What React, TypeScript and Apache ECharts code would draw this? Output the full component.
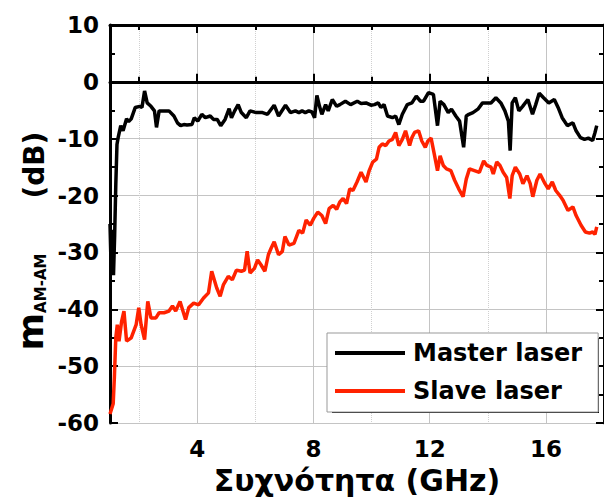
import React, { useEffect, useRef } from "react";
import * as echarts from "echarts";

const masterFreq = [1.0, 1.04, 1.08, 1.12, 1.16, 1.2, 1.24, 1.28, 1.37, 1.45, 1.57, 1.64, 1.73, 1.87, 2.02, 2.1, 2.19, 2.28, 2.41, 2.53, 2.6, 2.69, 2.84, 3.03, 3.2, 3.32, 3.43, 3.54, 3.65, 3.82, 3.9, 4.02, 4.16, 4.28, 4.45, 4.56, 4.69, 4.81, 4.96, 5.1, 5.18, 5.29, 5.41, 5.52, 5.69, 5.82, 6.03, 6.25, 6.42, 6.65, 6.8, 7.04, 7.21, 7.38, 7.5, 7.61, 7.72, 7.84, 7.95, 8.04, 8.12, 8.21, 8.29, 8.42, 8.51, 8.65, 8.8, 8.91, 9.1, 9.28, 9.51, 9.64, 9.81, 9.98, 10.1, 10.23, 10.32, 10.43, 10.55, 10.72, 10.83, 10.94, 11.06, 11.23, 11.39, 11.54, 11.68, 11.79, 11.96, 12.13, 12.27, 12.36, 12.49, 12.64, 12.75, 12.9, 13.03, 13.17, 13.26, 13.35, 13.49, 13.66, 13.82, 13.99, 14.11, 14.28, 14.45, 14.59, 14.71, 14.77, 14.84, 14.95, 15.07, 15.2, 15.38, 15.54, 15.65, 15.77, 15.92, 16.1, 16.29, 16.42, 16.56, 16.74, 16.93, 17.04, 17.19, 17.33, 17.46, 17.61, 17.69, 17.75];
const masterGain = [-25, -33, -26, -34, -27, -18, -11, -9.8, -7.7, -8.6, -6.5, -7.0, -6.5, -4.5, -4.3, -4.5, -1.6, -3.7, -4.3, -5.1, -8.0, -5.1, -5.1, -5.1, -6.0, -7.2, -7.7, -7.5, -7.6, -7.5, -6.3, -6.9, -5.7, -6.3, -6.0, -6.6, -6.6, -7.7, -6.6, -4.7, -6.3, -5.1, -4.0, -5.4, -6.3, -5.1, -5.4, -5.4, -5.7, -4.1, -6.0, -4.1, -5.4, -5.1, -5.4, -5.1, -5.4, -5.1, -5.3, -6.3, -2.4, -4.3, -5.7, -4.0, -5.1, -3.1, -4.3, -4.0, -3.4, -4.0, -3.4, -3.8, -3.7, -4.1, -4.0, -3.7, -4.5, -4.0, -6.0, -6.3, -6.0, -7.5, -5.7, -4.0, -3.7, -2.5, -3.4, -3.4, -1.9, -2.2, -7.7, -3.4, -4.0, -5.4, -4.8, -6.0, -6.9, -11.5, -6.0, -5.7, -5.4, -4.8, -3.7, -3.7, -3.7, -2.8, -3.7, -5.1, -6.9, -12.1, -3.7, -2.8, -5.1, -4.3, -3.1, -5.7, -4.0, -2.0, -2.8, -3.7, -3.1, -4.5, -6.3, -7.7, -7.2, -8.6, -9.8, -10.1, -9.9, -10.3, -8.9, -7.7];

const slaveFreq = [1.0, 1.11, 1.15, 1.2, 1.25, 1.31, 1.4, 1.48, 1.57, 1.73, 1.9, 1.99, 2.07, 2.19, 2.3, 2.41, 2.58, 2.69, 2.86, 3.03, 3.15, 3.26, 3.41, 3.6, 3.71, 3.88, 4.05, 4.22, 4.39, 4.5, 4.67, 4.79, 4.9, 5.07, 5.21, 5.35, 5.52, 5.63, 5.72, 5.82, 5.97, 6.08, 6.2, 6.33, 6.45, 6.54, 6.65, 6.8, 6.93, 7.02, 7.16, 7.33, 7.5, 7.63, 7.75, 7.89, 8.01, 8.15, 8.29, 8.42, 8.54, 8.68, 8.8, 8.91, 9.02, 9.14, 9.25, 9.36, 9.5, 9.64, 9.81, 9.92, 10.04, 10.17, 10.26, 10.37, 10.49, 10.6, 10.72, 10.83, 10.94, 11.06, 11.17, 11.31, 11.39, 11.48, 11.62, 11.73, 11.85, 11.94, 12.05, 12.16, 12.27, 12.36, 12.47, 12.58, 12.73, 12.86, 13.0, 13.15, 13.26, 13.37, 13.54, 13.71, 13.86, 13.97, 14.11, 14.19, 14.31, 14.42, 14.53, 14.65, 14.76, 14.84, 14.95, 15.1, 15.21, 15.35, 15.46, 15.55, 15.69, 15.8, 15.97, 16.08, 16.22, 16.34, 16.48, 16.59, 16.76, 16.93, 17.04, 17.21, 17.36, 17.5, 17.61, 17.69, 17.75];
const slaveGain = [-58.4, -56.6, -52, -45, -42.7, -45.6, -42.1, -40.3, -45.6, -45.0, -42.7, -39.7, -42.7, -45.3, -38.6, -41.5, -41.5, -40.6, -40.6, -40.3, -39.4, -40.3, -38.6, -41.8, -39.7, -38.9, -39.2, -38.0, -37.1, -33.3, -36.2, -37.7, -35.7, -34.2, -34.8, -33.1, -33.3, -33.1, -29.8, -33.6, -32.8, -31.3, -32.2, -33.3, -30.4, -29.3, -28.1, -30.4, -29.8, -27.2, -28.7, -28.4, -26.1, -26.6, -24.3, -25.2, -24.0, -22.9, -23.5, -24.9, -22.3, -21.7, -22.4, -21.1, -20.5, -21.4, -18.8, -19.1, -17.6, -15.9, -17.6, -15.6, -14.1, -13.6, -11.5, -10.9, -11.2, -10.4, -10.1, -8.9, -11.2, -10.1, -8.6, -11.2, -9.8, -8.9, -8.6, -10.4, -11.5, -10.4, -9.9, -12.7, -15.6, -13.0, -14.7, -15.3, -15.6, -17.3, -18.8, -20.2, -17.1, -15.3, -15.6, -15.9, -13.9, -14.7, -15.0, -16.2, -14.1, -14.7, -15.9, -16.8, -20.5, -16.5, -15.0, -16.2, -17.9, -16.5, -17.9, -20.2, -17.3, -16.2, -17.9, -18.8, -17.6, -19.1, -20.0, -20.8, -22.6, -22.0, -23.5, -25.2, -26.4, -26.6, -26.4, -26.8, -25.5];

const majorXTicks = [4, 8, 12, 16];
const minorXTicks = [2, 6, 10, 14];
const seriesNames = ["Master laser", "Slave laser"];
const xTitle = "Συχνότητα (GHz)";

const FONT = "DejaVu Sans";

export default function App() {
  const ref = useRef<HTMLDivElement>(null);
  useEffect(() => {
    if (!ref.current) return;
    const chart = echarts.init(ref.current, null, { renderer: "svg" });
    const zip = (xs: number[], ys: number[]) => xs.map((x, i) => [x, ys[i]]);
    const baseX = { type: "value", min: 1, max: 18, gridIndex: 0 } as any;
    const option: any = {
      animation: false,
      backgroundColor: "#fff",
      grid: { left: 110, top: 25, right: -7, bottom: 74, containLabel: false },
      xAxis: [
        {
          ...baseX,
          position: "bottom",
          name: xTitle,
          nameLocation: "middle",
          nameGap: 41,
          nameTextStyle: { fontFamily: FONT, fontWeight: "bold", fontSize: 30, color: "#000" },
          axisLine: { show: true, lineStyle: { color: "#000", width: 3 } },
          axisTick: { show: true, inside: true, length: 8, customValues: majorXTicks, lineStyle: { color: "#000", width: 2 } },
          axisLabel: { show: true, customValues: majorXTicks, margin: 14, fontFamily: FONT, fontWeight: "bold", fontSize: 23, color: "#000" },
          splitLine: { show: true, lineStyle: { color: "#c4c4c4", width: 1 } },
        },
        {
          ...baseX,
          position: "bottom",
          axisLine: { show: false },
          axisTick: { show: true, inside: true, length: 5, customValues: minorXTicks, lineStyle: { color: "#000", width: 2 } },
          axisLabel: { show: false },
          splitLine: { show: true, lineStyle: { color: "#d0d0d0", width: 1, type: "dotted" } },
        },
        {
          ...baseX,
          position: "top",
          axisLine: { show: true, lineStyle: { color: "#000", width: 3 } },
          axisTick: { show: true, inside: true, length: 8, customValues: majorXTicks, lineStyle: { color: "#000", width: 2 } },
          axisLabel: { show: false },
          splitLine: { show: false },
        },
        {
          ...baseX,
          position: "top",
          axisLine: { show: false },
          axisTick: { show: true, inside: true, length: 5, customValues: minorXTicks, lineStyle: { color: "#000", width: 2 } },
          axisLabel: { show: false },
          splitLine: { show: false },
        },
      ],
      yAxis: [
        {
          type: "value",
          min: -60,
          max: 10,
          interval: 10,
          position: "left",
          axisLine: { show: true, lineStyle: { color: "#000", width: 3 } },
          axisTick: { show: true, inside: true, length: 8, lineStyle: { color: "#000", width: 2 } },
          minorTick: { show: true, splitNumber: 2, length: 5, lineStyle: { color: "#000", width: 2 } },
          axisLabel: { margin: 11, fontFamily: FONT, fontWeight: "bold", fontSize: 23, color: "#000" },
          splitLine: { show: true, lineStyle: { color: "#c4c4c4", width: 1 } },
        },
        {
          type: "value",
          min: -60,
          max: 10,
          interval: 10,
          position: "right",
          axisLine: { show: true, lineStyle: { color: "#000", width: 3 } },
          axisTick: { show: true, inside: true, length: 8, lineStyle: { color: "#000", width: 2 } },
          minorTick: { show: true, splitNumber: 2, length: 5, lineStyle: { color: "#000", width: 2 } },
          axisLabel: { show: false },
          splitLine: { show: false },
        },
      ],
      legend: {
        data: seriesNames,
        orient: "vertical",
        left: 327,
        top: 333,
        padding: [8, 16, 9, 8],
        itemGap: 14,
        itemWidth: 70,
        itemHeight: 4,
        icon: "rect",
        backgroundColor: "#fff",
        borderColor: "#999",
        borderWidth: 1,
        textStyle: { fontFamily: FONT, fontWeight: "bold", fontSize: 24, color: "#000", padding: [0, 0, 0, 3] },
        z: 10,
      },
      graphic: [
        {
          type: "rect",
          z: 5,
          shape: { x: 332, y: 338, width: 267, height: 75 },
          style: { fill: "#000" },
        },
        {
          type: "text",
          x: 30,
          y: 241,
          rotation: Math.PI / 2,
          style: {
            text: "{m|m}{s|AM-AM}{d|(dB)}",
            align: "center",
            verticalAlign: "middle",
            rich: {
              m: { fontFamily: FONT, fontWeight: "bold", fontSize: 36, fill: "#000", verticalAlign: "bottom" },
              s: { fontFamily: FONT, fontWeight: "bold", fontSize: 15, fill: "#000", verticalAlign: "bottom" },
              d: { fontFamily: FONT, fontWeight: "bold", fontSize: 28, fill: "#000", padding: [0, 0, 0, 55], verticalAlign: "bottom" },
            },
          },
        },
      ],
      series: [
        {
          name: seriesNames[0],
          type: "line",
          xAxisIndex: 0,
          yAxisIndex: 0,
          data: zip(masterFreq, masterGain),
          showSymbol: false,
          lineStyle: { color: "#000", width: 3.5 },
          itemStyle: { color: "#000" },
          z: 3,
        },
        {
          name: seriesNames[1],
          type: "line",
          xAxisIndex: 0,
          yAxisIndex: 0,
          data: zip(slaveFreq, slaveGain),
          showSymbol: false,
          lineStyle: { color: "#ff2200", width: 3.5 },
          itemStyle: { color: "#ff2200" },
          z: 2,
        },
      ],
    };
    chart.setOption(option);
    return () => chart.dispose();
  }, []);
  return <div ref={ref} style={{ position: "fixed", left: 0, top: 0, width: 604, height: 500 }} />;
}
